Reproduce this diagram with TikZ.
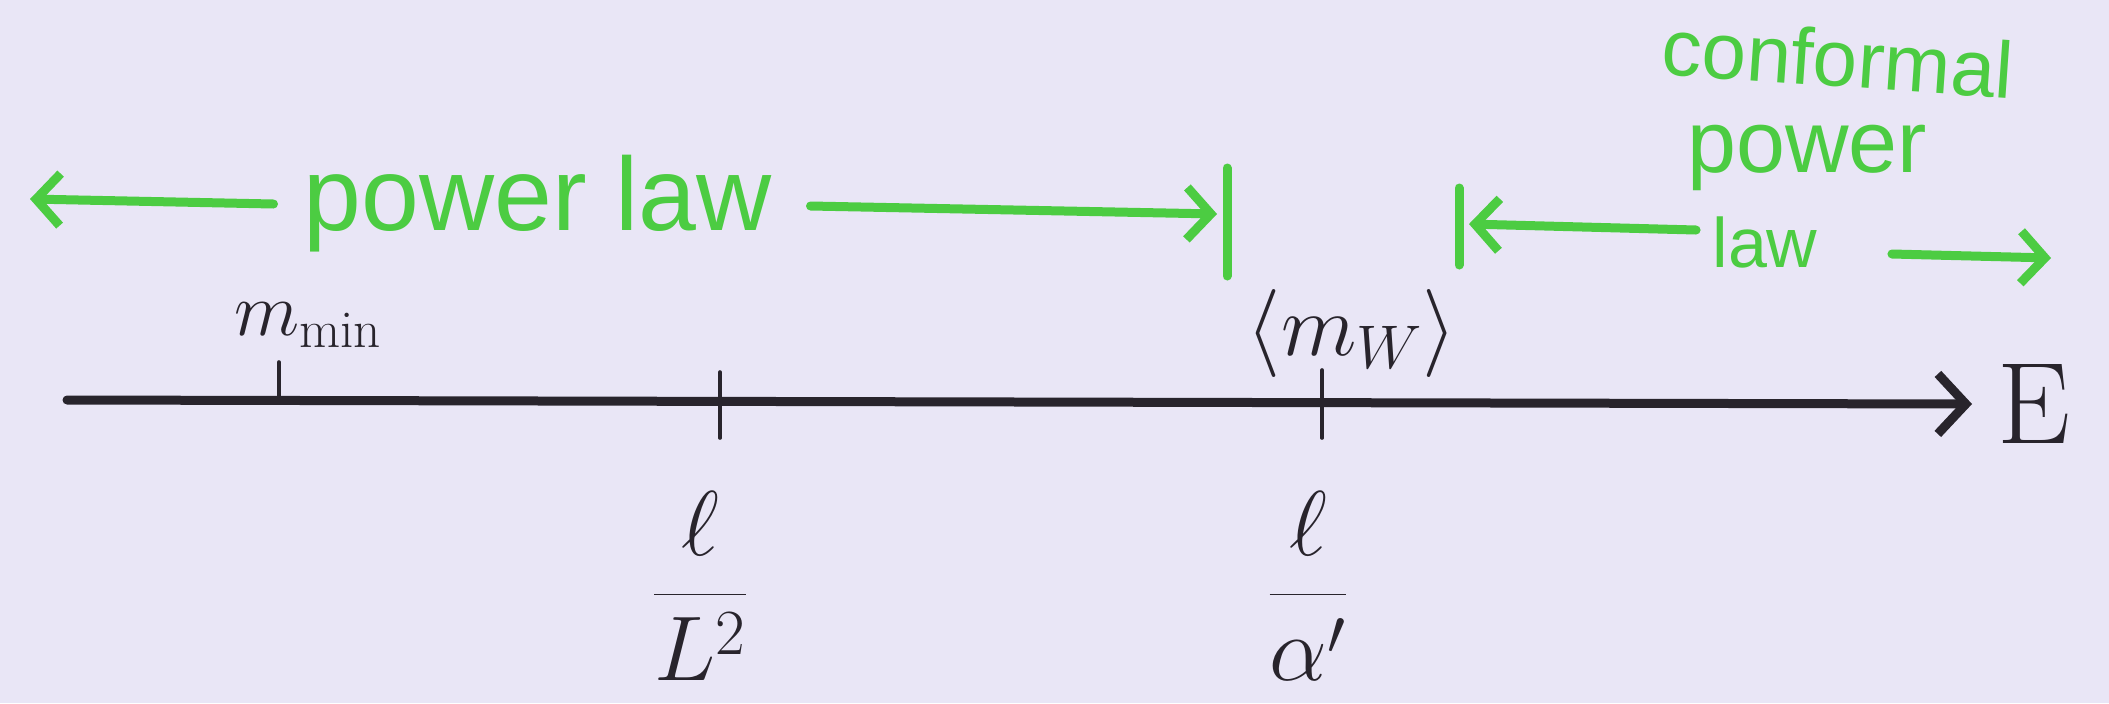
\RequirePackage{fix-cm}
\documentclass[tikz,border=0pt]{standalone}
\usepackage{fontspec}
\setsansfont{Liberation Sans}
\usetikzlibrary{arrows.meta}
\definecolor{paper}{RGB}{233,230,246}
\definecolor{inkc}{RGB}{40,36,44}
\definecolor{marker}{RGB}{76,204,66}
\begin{document}
\begin{tikzpicture}[x=0.5pt,y=-0.5pt,
  axisline/.style={draw=inkc,line width=4.5pt,line cap=round,-{Straight Barb[length=14pt,width=30pt]}},
  tickline/.style={draw=inkc,line width=1.8pt,line cap=round},
  blabel/.style={text=inkc,inner sep=0pt,font=\fontsize{#1}{#1}\selectfont},
  glabel/.style={text=marker,inner sep=0pt,font=\sffamily\fontsize{#1}{#1}\selectfont},
  gline/.style={draw=marker,line width=4.5pt,line cap=round},
  garrow/.style={gline,-{Straight Barb[length=12pt,width=26pt]}}
]
\fill[paper] (0,0) rectangle (2109,703);
\useasboundingbox (0,0) rectangle (2109,703);

% axis
\node[blabel=58] (E) at (2034,404) {$\mathrm{E}$};
\coordinate (a0) at (67,400);
\coordinate (a1) at (1972,404);
\draw[axisline] (a0) -- (a1);

% ticks
\coordinate (t1a) at (279,362); \coordinate (t1b) at (279,401);
\coordinate (t2a) at (720,372); \coordinate (t2b) at (720,438);
\coordinate (t3a) at (1322,370); \coordinate (t3b) at (1322,438);
\draw[tickline] (t1a) -- (t1b);
\draw[tickline] (t2a) -- (t2b);
\draw[tickline] (t3a) -- (t3b);

% black labels
\node[blabel=38] (mmin) at (308,325) {$m_{\mathrm{min}}$};
\node[blabel=44] (mw) at (1352,333) {$\langle m_W\rangle$};
\node[blabel=46] (fL) at (700,586) {${\displaystyle\frac{\ell}{L^2}}$};
\node[blabel=46] (fa) at (1308,586) {${\displaystyle\frac{\ell}{\alpha'}}$};

% green: power law
\node[glabel=52] (pl) at (538,204) {power law};
\coordinate (plL) at (30,199);
\coordinate (plR) at (1217,214);
\coordinate (b1a) at (1227,168); \coordinate (b1b) at (1227,276);
\draw[garrow] ([xshift=-15pt]pl.west) -- (plL);
\draw[garrow] ([xshift=19pt,yshift=-1pt]pl.east) -- (plR);
\draw[gline] (b1a) -- (b1b);

% green: conformal power law
\node[glabel=40,rotate=-4] (conf) at (1838,58) {conformal};
\node[glabel=44] (pw) at (1807,158) {power};
\node[glabel=35] (law) at (1765,242) {law};
\coordinate (clL) at (1469,224);
\coordinate (clR) at (2051,258);
\coordinate (b2a) at (1459,188); \coordinate (b2b) at (1459,265);
\draw[garrow] ([xshift=-8pt,yshift=6pt]law.west) -- (clL);
\draw[garrow] ([xshift=37pt,yshift=-6pt]law.east) -- (clR);
\draw[gline] (b2a) -- (b2b);
\end{tikzpicture}
\end{document}
